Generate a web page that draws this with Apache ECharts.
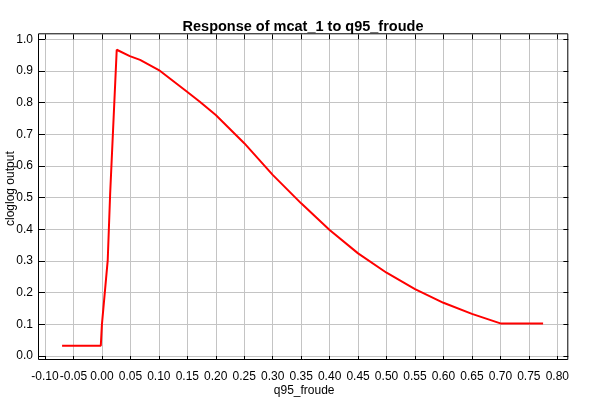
<!DOCTYPE html>
<html>
<head>
<meta charset="utf-8">
<script src="https://cdn.jsdelivr.net/npm/echarts@6/dist/echarts.min.js"></script>
<style>html,body{margin:0;padding:0;background:#fff}#c{width:600px;height:400px}</style>
</head>
<body>
<div id="c"></div>
<script>
const titleText = 'Response of mcat_1 to q95_froude';
const xName = 'q95_froude';
const yName = 'cloglog output';
const xData = [-0.07, -0.002, 0.0, 0.0102, 0.0144, 0.026, 0.049, 0.067, 0.100, 0.149, 0.172, 0.200, 0.250, 0.300, 0.350, 0.400, 0.450, 0.500, 0.550, 0.600, 0.650, 0.700, 0.775];
const yData = [0.0325, 0.0325, 0.10, 0.303, 0.51, 0.967, 0.947, 0.935, 0.903, 0.835, 0.803, 0.761, 0.672, 0.572, 0.482, 0.398, 0.324, 0.263, 0.211, 0.168, 0.133, 0.103, 0.103];
const xTicks = [-0.10, -0.05, 0.00, 0.05, 0.10, 0.15, 0.20, 0.25, 0.30, 0.35, 0.40, 0.45, 0.50, 0.55, 0.60, 0.65, 0.70, 0.75, 0.80];
const yTicks = [0.0, 0.1, 0.2, 0.3, 0.4, 0.5, 0.6, 0.7, 0.8, 0.9, 1.0];

const font = 'Liberation Sans';
const G = {left: 45, right: 36.7, top: 39.3, bottom: 44};
const off = {bottom: 4, top: 5, left: 6, right: 5};
const W = 600, H = 400;

const chart = echarts.init(document.getElementById('c'), null, {renderer: 'canvas'});
const pts = xData.map((x, i) => [x, yData[i]]);
const gridColor = '#c4c4c4';

const baseX = {
  type: 'value', min: -0.10, max: 0.8105,
  axisLine: {show: false, onZero: false},
  axisTick: {show: true, inside: true, customValues: xTicks, lineStyle: {color: '#000'}},
  splitLine: {show: false},
  axisLabel: {show: false, customValues: xTicks}
};
const baseY = {
  type: 'value', min: 0, max: 1, interval: 0.1,
  axisLine: {show: false, onZero: false},
  axisTick: {show: true, inside: true, lineStyle: {color: '#000'}},
  splitLine: {show: false},
  axisLabel: {show: false}
};

chart.setOption({
  animation: false,
  backgroundColor: '#fff',
  title: {
    text: titleText, left: 298, top: 14, textAlign: 'center',
    textStyle: {fontFamily: font, fontSize: 14.5, fontWeight: 'bold', color: '#000'}
  },
  grid: {left: G.left, right: G.right, top: G.top, bottom: G.bottom, containLabel: false, outerBoundsMode: 'none'},
  xAxis: [
    Object.assign({}, baseX, {
      position: 'bottom', offset: off.bottom,
      axisTick: Object.assign({}, baseX.axisTick, {length: off.bottom}),
      splitLine: {show: true, lineStyle: {color: gridColor, width: 1}},
      axisLabel: {show: true, customValues: xTicks, margin: 11, color: '#000', fontFamily: font, fontSize: 12,
        formatter: v => v.toFixed(2)},
      name: xName, nameLocation: 'middle', nameGap: 25, nameMoveOverlap: false,
      nameTextStyle: {fontFamily: font, fontSize: 12, color: '#000'}
    }),
    Object.assign({}, baseX, {
      position: 'top', offset: off.top,
      axisTick: Object.assign({}, baseX.axisTick, {length: off.top})
    })
  ],
  yAxis: [
    Object.assign({}, baseY, {
      position: 'left', offset: off.left,
      axisTick: Object.assign({}, baseY.axisTick, {length: off.left}),
      splitLine: {show: true, lineStyle: {color: gridColor, width: 1}},
      axisLabel: {show: true, margin: 6, align: 'right', color: '#000', fontFamily: font, fontSize: 12,
        formatter: v => v.toFixed(1)},
      name: yName, nameLocation: 'middle', nameGap: 22, nameMoveOverlap: false,
      nameTextStyle: {fontFamily: font, fontSize: 12, color: '#000', padding: [0, 0, 0, 18]}
    }),
    Object.assign({}, baseY, {
      position: 'right', offset: off.right,
      axisTick: Object.assign({}, baseY.axisTick, {length: off.right})
    })
  ],
  graphic: [{
    type: 'rect', z: 100, silent: true,
    shape: {
      x: G.left - off.left - 0.5, y: G.top - off.top - 0.5,
      width: (W - G.right + off.right) - (G.left - off.left),
      height: (H - G.bottom + off.bottom) - (G.top - off.top)
    },
    style: {fill: 'none', stroke: '#000', lineWidth: 1}
  }],
  series: [{
    type: 'line', xAxisIndex: 0, yAxisIndex: 0, data: pts,
    showSymbol: false, symbol: 'none', smooth: false,
    lineStyle: {color: '#ff0000', width: 2}
  }]
});
</script>
</body>
</html>
